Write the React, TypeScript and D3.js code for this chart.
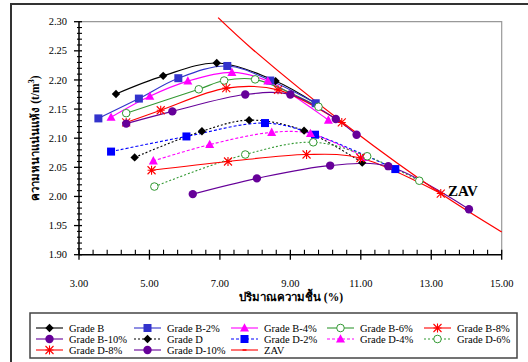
import React from "react";
import * as d3 from "d3";

// moisture content (%) vs dry density (t/m3)
const gradeB = [[4.05, 2.176], [5.39, 2.207], [6.91, 2.229], [8.58, 2.198], [9.73, 2.159]];
const gradeB2 = [[3.55, 2.134], [4.70, 2.168], [5.82, 2.203], [7.21, 2.224], [8.43, 2.199], [9.72, 2.160]];
const gradeB4 = [[3.91, 2.136], [5.01, 2.172], [6.09, 2.198], [7.34, 2.213], [8.36, 2.198], [10.08, 2.131]];
const gradeB6 = [[4.34, 2.143], [6.40, 2.184], [7.12, 2.199], [8.00, 2.201], [9.80, 2.154]];
const gradeB8 = [[4.34, 2.127], [5.32, 2.148], [7.18, 2.186], [8.65, 2.183], [10.46, 2.127]];
const gradeB10 = [[4.34, 2.125], [5.65, 2.146], [7.72, 2.175], [9.00, 2.175], [10.29, 2.133], [10.88, 2.106]];
const gradeD = [[4.58, 2.067], [6.49, 2.112], [7.83, 2.131], [9.39, 2.113], [11.04, 2.058]];
const gradeD2 = [[3.91, 2.077], [6.05, 2.103], [8.28, 2.126], [9.70, 2.106], [11.98, 2.047]];
const gradeD4 = [[5.11, 2.061], [6.71, 2.089], [8.47, 2.110], [9.57, 2.108], [11.10, 2.067]];
const gradeD6 = [[5.14, 2.017], [7.72, 2.072], [9.65, 2.093], [11.18, 2.069], [12.66, 2.027]];
const gradeD8 = [[5.06, 2.045], [7.23, 2.060], [9.46, 2.072], [10.99, 2.066], [13.27, 2.005]];
const gradeD10 = [[6.23, 2.004], [8.05, 2.031], [10.13, 2.053], [11.78, 2.052], [14.07, 1.978]];
const zav = [[6.95, 2.307], [7.94, 2.252], [10.70, 2.117], [13.27, 2.005], [15.0, 1.939]];

const xTicks = [3, 5, 7, 9, 11, 13, 15];
const yTicks = [1.9, 1.95, 2.0, 2.05, 2.1, 2.15, 2.2, 2.25, 2.3];

type Series = {
  name: string;
  data: number[][];
  color: string;
  marker: string;
  dash?: string;
};

const series: Series[] = [
  { name: "Grade B", data: gradeB, color: "#000000", marker: "diamond" },
  { name: "Grade B-2%", data: gradeB2, color: "#3333cc", marker: "square" },
  { name: "Grade B-4%", data: gradeB4, color: "#ff00ff", marker: "triangle" },
  { name: "Grade B-6%", data: gradeB6, color: "#339933", marker: "opencircle" },
  { name: "Grade B-8%", data: gradeB8, color: "#ff0000", marker: "asterisk" },
  { name: "Grade B-10%", data: gradeB10, color: "#660099", marker: "circle" },
  { name: "Grade D", data: gradeD, color: "#000000", marker: "diamond", dash: "2,2" },
  { name: "Grade D-2%", data: gradeD2, color: "#0000ff", marker: "square", dash: "3,2" },
  { name: "Grade D-4%", data: gradeD4, color: "#ff00ff", marker: "triangle", dash: "3,2" },
  { name: "Grade D-6%", data: gradeD6, color: "#339933", marker: "opencircle", dash: "2,2" },
  { name: "Grade D-8%", data: gradeD8, color: "#ff0000", marker: "asterisk" },
  { name: "Grade D-10%", data: gradeD10, color: "#660099", marker: "circle" },
  { name: "ZAV", data: zav, color: "#ff0000", marker: "dash" },
];

const serif = "'Liberation Serif', 'Times New Roman', serif";

function Marker({ kind, x, y, color }: { kind: string; x: number; y: number; color: string }) {
  if (kind === "diamond") {
    const s = 4.2;
    return <path d={`M${x},${y - s}L${x + s},${y}L${x},${y + s}L${x - s},${y}Z`} fill={color} />;
  }
  if (kind === "square") {
    return <rect x={x - 4} y={y - 4} width={8} height={8} fill={color} />;
  }
  if (kind === "triangle") {
    return <path d={`M${x},${y - 4.8}L${x + 4.5},${y + 3.5}L${x - 4.5},${y + 3.5}Z`} fill={color} />;
  }
  if (kind === "opencircle") {
    return <circle cx={x} cy={y} r={3.8} fill="white" stroke={color} strokeWidth={1} />;
  }
  if (kind === "circle") {
    return <circle cx={x} cy={y} r={4.2} fill={color} />;
  }
  if (kind === "asterisk") {
    const s = 4;
    return (
      <path
        d={`M${x - s},${y - s}L${x + s},${y + s}M${x - s},${y + s}L${x + s},${y - s}M${x},${y - s - 0.5}L${x},${y + s + 0.5}M${x - s},${y}L${x + s},${y}`}
        stroke={color}
        strokeWidth={1.1}
        fill="none"
      />
    );
  }
  if (kind === "dash") {
    return <path d={`M${x - 2},${y}L${x + 2},${y}`} stroke={color} strokeWidth={1.5} />;
  }
  return null;
}

export default function App() {
  const width = 528;
  const height = 362;
  const left = 79, right = 501.7, top = 21.7, bottom = 254.7;

  const x = d3.scaleLinear().domain([3, 15]).range([left, right]);
  const y = d3.scaleLinear().domain([1.9, 2.3]).range([bottom, top]);

  const line = d3
    .line<number[]>()
    .x((d) => x(d[0]))
    .y((d) => y(d[1]))
    .curve(d3.curveCatmullRom.alpha(0.5));

  const xMinor = d3.range(3, 15.001, 0.4).filter((v) => Math.abs((v - 3) / 2 - Math.round((v - 3) / 2)) > 0.01);
  const yMinor = d3.range(1.9, 2.3001, 0.01).filter((v) => Math.abs(v / 0.05 - Math.round(v / 0.05)) > 0.01);

  const legendCols = [36, 134, 231, 327, 424];
  const legendRows = [328, 339, 350];

  return (
    <svg width={width} height={height} style={{ position: "absolute", left: 0, top: 0, background: "white" }}>
      {/* outer frame */}
      <rect x={11} y={4} width={530} height={370} fill="white" stroke="#333" strokeWidth={2} />

      {/* plot border */}
      <path d={`M${left},${top}L${right},${top}L${right},${bottom}`} fill="none" stroke="#999" strokeWidth={1.2} />

      {/* series */}
      {series.map((s) => (
        <path
          key={s.name + "-line"}
          d={line(s.data) || ""}
          fill="none"
          stroke={s.color}
          strokeWidth={s.name === "ZAV" ? 1.3 : 1.1}
          strokeDasharray={s.dash}
        />
      ))}
      {series
        .filter((s) => s.name !== "ZAV")
        .map((s) =>
          s.data.map((d, i) => <Marker key={s.name + i} kind={s.marker} x={x(d[0])} y={y(d[1])} color={s.color} />)
        )}

      {/* y axis */}
      <line x1={left} x2={left} y1={top} y2={bottom} stroke="black" strokeWidth={1.5} />
      {yTicks.map((t) => (
        <g key={"yt" + t}>
          <line x1={left - 5} x2={left + 3} y1={y(t)} y2={y(t)} stroke="black" strokeWidth={1.3} />
          <text x={67} y={y(t) + 3.6} textAnchor="end" fontFamily={serif} fontSize={10.5}>
            {t.toFixed(2)}
          </text>
        </g>
      ))}
      {yMinor.map((t) => (
        <line key={"ym" + t} x1={left - 2} x2={left + 3} y1={y(t)} y2={y(t)} stroke="black" strokeWidth={1.1} />
      ))}

      {/* x axis */}
      <line x1={left} x2={right} y1={bottom} y2={bottom} stroke="black" strokeWidth={1.5} />
      {xTicks.map((t) => (
        <g key={"xt" + t}>
          <line x1={x(t)} x2={x(t)} y1={bottom - 5} y2={bottom + 5} stroke="black" strokeWidth={1.3} />
          <text x={x(t)} y={287} textAnchor="middle" fontFamily={serif} fontSize={10.5}>
            {t.toFixed(2)}
          </text>
        </g>
      ))}
      {xMinor.map((t) => (
        <line key={"xm" + t} x1={x(t)} x2={x(t)} y1={bottom - 5} y2={bottom} stroke="black" strokeWidth={1.1} />
      ))}

      {/* ZAV label */}
      <text x={448} y={196} fontFamily={serif} fontSize={15} fontWeight="bold">
        ZAV
      </text>

      {/* axis titles */}
      <text x={291} y={301} textAnchor="middle" fontFamily={serif} fontSize={11.5} fontWeight="bold">
        ปริมาณความชื้น (%)
      </text>
      <text
        transform="translate(39,138) rotate(-90)"
        textAnchor="middle"
        fontFamily={serif}
        fontSize={11.5}
        fontWeight="bold"
      >
        ความหนาแน่นแห้ง (t/m<tspan dy={-5} fontSize={8.5}>3</tspan>
        <tspan dy={5}>)</tspan>
      </text>

      {/* legend */}
      <rect x={30} y={313} width={487} height={45} fill="white" stroke="#444" strokeWidth={1.5} />
      {series.map((s, i) => {
        const cx = legendCols[i % 5];
        const cy = legendRows[Math.floor(i / 5)];
        return (
          <g key={s.name + "-leg"}>
            <line x1={cx} x2={cx + 27} y1={cy} y2={cy} stroke={s.color} strokeWidth={1.1} strokeDasharray={s.dash} />
            <Marker kind={s.marker} x={cx + 13.5} y={cy} color={s.color} />
            <text x={cx + 33} y={cy + 3.6} fontFamily={serif} fontSize={10.5}>
              {s.name}
            </text>
          </g>
        );
      })}
    </svg>
  );
}
